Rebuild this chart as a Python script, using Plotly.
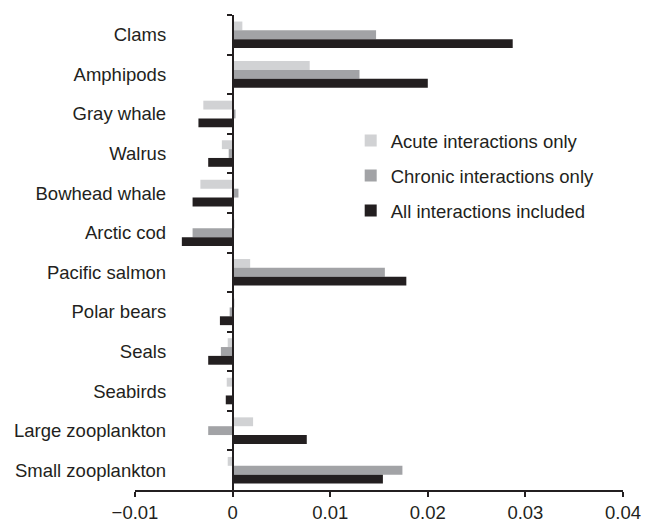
import plotly.graph_objects as go

categories = ["Clams", "Amphipods", "Gray whale", "Walrus", "Bowhead whale", "Arctic cod",
              "Pacific salmon", "Polar bears", "Seals", "Seabirds", "Large zooplankton",
              "Small zooplankton"]
acute = [0.001, 0.0079, -0.003, -0.0011, -0.0033, 0.0002, 0.0018, 0.0002, -0.0005, -0.0006, 0.0021, -0.0005]
chronic = [0.0147, 0.0130, 0.0003, -0.0004, 0.0006, -0.0041, 0.0156, -0.0003, -0.0012, 0.0, -0.0025, 0.0174]
all_int = [0.0287, 0.0200, -0.0035, -0.0025, -0.0041, -0.0052, 0.0178, -0.0013, -0.0025, -0.0007, 0.0076, 0.0154]
series_names = ["Acute interactions only", "Chronic interactions only", "All interactions included"]
series_colors = ["#d1d2d4", "#a2a3a6", "#231f20"]
x_tickvals = [-0.01, 0, 0.01, 0.02, 0.03, 0.04]
x_ticktext = ["\u22120.01", "0", "0.01", "0.02", "0.03", "0.04"]

ink = "#231f20"
fig = go.Figure()
for name, vals, col in zip(series_names, [acute, chronic, all_int], series_colors):
    fig.add_trace(go.Bar(
        y=categories, x=vals, name=name, orientation="h",
        marker=dict(color=col, line=dict(width=0)),
        legendgroup=name,
    ))

fig.update_layout(
    width=653, height=522,
    margin=dict(l=135, r=30, t=15, b=32, autoexpand=False),
    paper_bgcolor="white", plot_bgcolor="white",
    barmode="group", bargap=0.33, bargroupgap=0,
    font=dict(family="Liberation Sans, Arial, sans-serif", size=18.5, color=ink),
    showlegend=True,
    legend=dict(x=0.442, y=0.775, xanchor="left", yanchor="top",
                bgcolor="rgba(0,0,0,0)", tracegroupgap=8,
                font=dict(size=18.5, color=ink)),
    xaxis=dict(range=[-0.01, 0.04], tickvals=x_tickvals, ticktext=x_ticktext,
               showgrid=False, zeroline=False, showline=True, linecolor=ink, linewidth=1.5,
               ticks="outside", ticklen=5, tickwidth=1.5, tickcolor=ink, automargin=False,
               tickfont=dict(size=18.5, color=ink)),
    yaxis=dict(type="category", range=[11.5, -0.5], anchor="free", position=0.2,
               showgrid=False, zeroline=False, showline=True, linecolor=ink, linewidth=1.5,
               ticks="outside", tickson="boundaries", ticklen=5, tickwidth=1.5, tickcolor=ink,
               ticklabelstandoff=62, automargin=False, tickfont=dict(size=18.5, color=ink)),
)

# remove the page's default 8px body margin so the figure fills the window exactly
fig.write_html("out.html", config={"displayModeBar": False},
               post_script="document.body.style.margin='0';")
